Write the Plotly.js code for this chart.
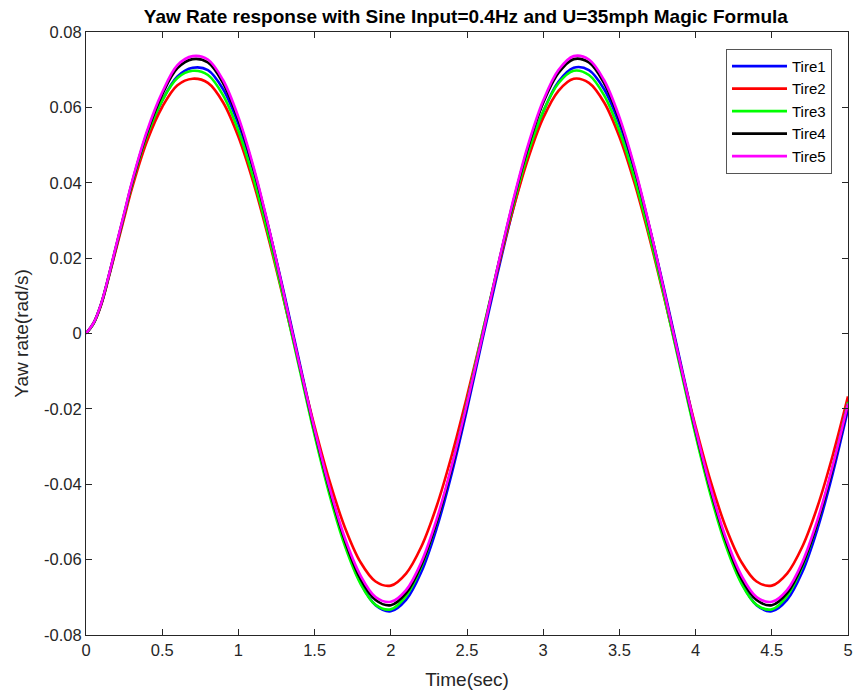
<!DOCTYPE html>
<html>
<head>
<meta charset="utf-8">
<script src="https://cdn.plot.ly/plotly-3.0.1.min.js"></script>
<style>html,body{margin:0;padding:0;background:#fff;}#chart{width:857px;height:695px;}</style>
</head>
<body>
<div id="chart"></div>
<script>
// time samples (s)
var time = [0,0.05,0.1,0.15,0.2,0.25,0.3,0.4,0.5,0.6,0.7,0.8,0.9,1.0,1.1,1.2,1.3,1.4,1.5,1.6,1.7,1.8,1.9,2.0,2.1,2.2,2.3,2.4,2.5,2.6,2.7,2.8,2.9,3.0,3.1,3.2,3.3,3.4,3.5,3.6,3.7,3.8,3.9,4.0,4.1,4.2,4.3,4.4,4.5,4.6,4.7,4.8,4.9,5.0];

var tire1 = [0,0.0027,0.0078,0.0152,0.0232,0.0312,0.0390,0.0522,0.0618,0.0682,
  0.0705,0.0699,0.0648,0.0556,0.0430,0.0277,0.0106,-0.0075,-0.0255,-0.0419,-0.0557,-0.0660,-0.0721,-0.0737,-0.0707,-0.0633,-0.0518,-0.0371,-0.0201,-0.0018,0.0159,0.0326,0.0472,0.0588,0.0668,
  0.0705,0.0699,0.0648,0.0556,0.0430,0.0277,0.0106,-0.0075,-0.0255,-0.0419,-0.0557,-0.0660,-0.0721,-0.0737,-0.0707,-0.0633,-0.0518,-0.0371,-0.0201];

var tire2 = [0,0.0027,0.0077,0.0150,0.0228,0.0306,0.0383,0.0510,0.0601,0.0659,
  0.0676,0.0665,0.0613,0.0522,0.0398,0.0249,0.0085,-0.0084,-0.0247,-0.0394,-0.0516,-0.0606,-0.0658,-0.0669,-0.0637,-0.0566,-0.0459,-0.0323,-0.0167,0.0000,0.0168,0.0326,0.0463,0.0572,0.0644,
  0.0676,0.0665,0.0613,0.0522,0.0398,0.0249,0.0085,-0.0084,-0.0247,-0.0394,-0.0516,-0.0606,-0.0658,-0.0669,-0.0637,-0.0566,-0.0459,-0.0323,-0.0167];

var tire3 = [0,0.0027,0.0079,0.0153,0.0234,0.0314,0.0393,0.0525,0.0618,0.0678,
  0.0697,0.0686,0.0632,0.0538,0.0410,0.0257,0.0087,-0.0092,-0.0270,-0.0431,-0.0565,-0.0663,-0.0720,-0.0732,-0.0697,-0.0619,-0.0502,-0.0353,-0.0182,0.0000,0.0174,0.0336,0.0478,0.0589,0.0664,
  0.0697,0.0686,0.0632,0.0538,0.0410,0.0257,0.0087,-0.0092,-0.0270,-0.0431,-0.0565,-0.0663,-0.0720,-0.0732,-0.0697,-0.0619,-0.0502,-0.0353,-0.0182];

var tire4 = [0,0.0028,0.0079,0.0154,0.0235,0.0316,0.0397,0.0532,0.0634,0.0704,
  0.0728,0.0719,0.0664,0.0568,0.0436,0.0277,0.0100,-0.0082,-0.0258,-0.0417,-0.0551,-0.0650,-0.0707,-0.0721,-0.0689,-0.0614,-0.0501,-0.0356,-0.0188,-0.0009,0.0173,0.0344,0.0493,0.0612,0.0691,
  0.0728,0.0719,0.0664,0.0568,0.0436,0.0277,0.0100,-0.0082,-0.0258,-0.0417,-0.0551,-0.0650,-0.0707,-0.0721,-0.0689,-0.0614,-0.0501,-0.0356,-0.0188];

var tire5 = [0,0.0028,0.0080,0.0155,0.0237,0.0318,0.0400,0.0537,0.0640,0.0712,
  0.0736,0.0727,0.0672,0.0574,0.0441,0.0280,0.0101,-0.0081,-0.0254,-0.0412,-0.0544,-0.0641,-0.0699,-0.0712,-0.0681,-0.0607,-0.0494,-0.0351,-0.0186,-0.0009,0.0175,0.0348,0.0499,0.0618,0.0699,
  0.0736,0.0727,0.0672,0.0574,0.0441,0.0280,0.0101,-0.0081,-0.0254,-0.0412,-0.0544,-0.0641,-0.0699,-0.0712,-0.0681,-0.0607,-0.0494,-0.0351,-0.0186];

var seriesNames = ["Tire1","Tire2","Tire3","Tire4","Tire5"];
var seriesData = [tire1, tire2, tire3, tire4, tire5];
var seriesColors = ["#0000ff","#ff0000","#00ff00","#000000","#ff00ff"];

var xTickVals = [0,0.5,1,1.5,2,2.5,3,3.5,4,4.5,5];
var xTickText = ["0","0.5","1","1.5","2","2.5","3","3.5","4","4.5","5"];
var yTickVals = [-0.08,-0.06,-0.04,-0.02,0,0.02,0.04,0.06,0.08];
var yTickText = ["-0.08","-0.06","-0.04","-0.02","0","0.02","0.04","0.06","0.08"];

var traces = seriesNames.map(function(n, i){
  return {x: time, y: seriesData[i], name: n, type: 'scatter', mode: 'lines',
    line: {color: seriesColors[i], width: 2.6, shape: 'spline', smoothing: 1}};
});

var fontFam = 'Liberation Sans, Arial, Helvetica, sans-serif';
var axCol = '#262626';

var layout = {
  width: 857, height: 695,
  margin: {l: 86, r: 9, t: 32, b: 60},
  paper_bgcolor: '#ffffff', plot_bgcolor: '#ffffff',
  font: {family: fontFam, color: axCol, size: 16},
  title: {text: '<b>Yaw Rate response with Sine Input=0.4Hz and U=35mph Magic Formula</b>',
    font: {family: fontFam, size: 19, color: '#000000'}, x: 0.5436, xanchor: 'center', y: 0.977, yanchor: 'middle'},
  showlegend: true,
  legend: {x: 0.979, xanchor: 'right', y: 0.972, yanchor: 'top', bgcolor: '#ffffff',
    bordercolor: '#555555', borderwidth: 1, font: {family: fontFam, size: 15, color: '#000000'},
    itemwidth: 55, tracegroupgap: 0},
  xaxis: {range: [0, 5], tickvals: xTickVals, ticktext: xTickText, ticks: 'inside', ticklen: 6,
    tickcolor: axCol, showline: true, linecolor: axCol, linewidth: 1, mirror: 'ticks',
    showgrid: false, zeroline: false, tickfont: {size: 16.5, color: axCol},
    title: {text: 'Time(sec)', font: {size: 19, color: axCol}, standoff: 14}},
  yaxis: {range: [-0.08, 0.08], tickvals: yTickVals, ticktext: yTickText, ticks: 'inside', ticklen: 6,
    tickcolor: axCol, showline: true, linecolor: axCol, linewidth: 1, mirror: 'ticks',
    showgrid: false, zeroline: false, tickfont: {size: 16.5, color: axCol},
    title: {text: 'Yaw rate(rad/s)', font: {size: 19, color: axCol}, standoff: 10}}
};

Plotly.newPlot('chart', traces, layout, {displayModeBar: false, staticPlot: true});
</script>
</body>
</html>
